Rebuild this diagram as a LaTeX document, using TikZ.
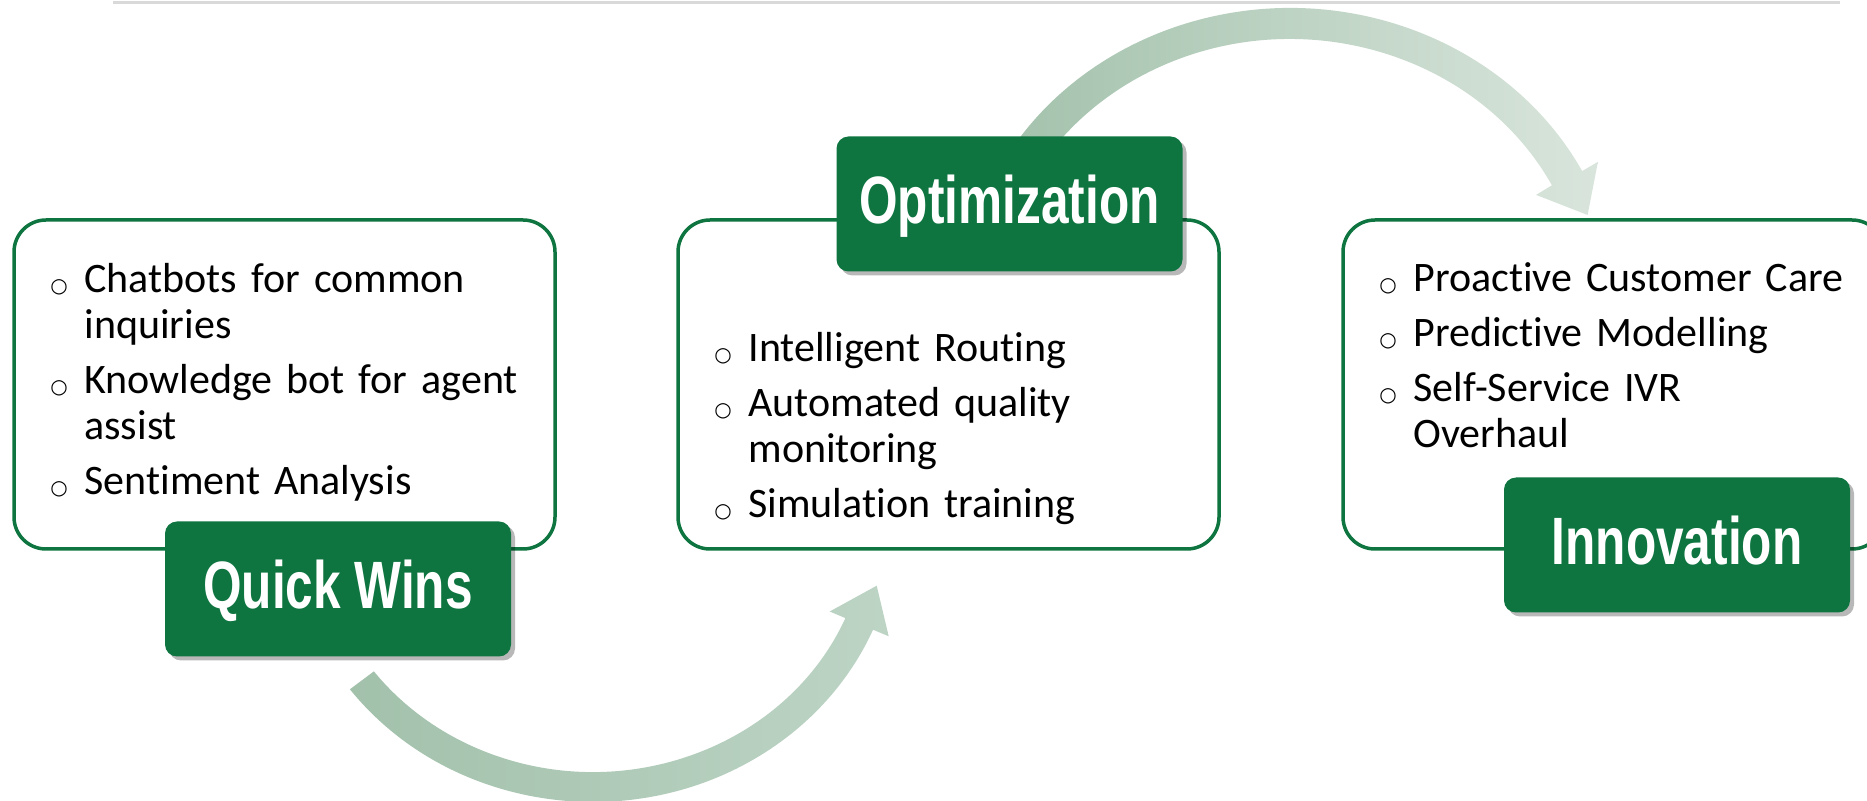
\documentclass[tikz,border=0pt]{standalone}
\usepackage{fontspec}
\setmainfont{Carlito}[Ligatures=NoCommon]
\newfontfamily\labelfont[FakeStretch=0.74]{Liberation Sans Bold}
\newfontfamily\dotfont{DejaVu Sans}
\usetikzlibrary{calc,shadows}

\definecolor{roadgreen}{RGB}{14,116,64}
\definecolor{flowdark}{RGB}{162,193,171}
\definecolor{flowlight}{RGB}{217,229,220}
\definecolor{flowmid}{RGB}{189,212,197}

% one bullet point, with the wrapped lines hanging under the text
\newcommand{\bitem}[1]{\par\noindent\hangindent=36pt\hangafter=1%
  \makebox[36pt][l]{\hspace{2pt}{\dotfont\fontsize{20}{20}\selectfont ○}}#1}

\begin{document}
\begin{tikzpicture}[
    x=1pt, y=1pt,
    phase/.style={rectangle, draw=roadgreen, line width=3.5pt, rounded corners=32pt, fill=white, minimum width=541pt, minimum height=329pt},
    tag/.style={rectangle, fill=roadgreen, rounded corners=12pt, minimum width=346pt, minimum height=135pt, text=white, text height=48pt, text depth=8pt, font=\labelfont\fontsize{67}{70}\selectfont, drop shadow={shadow xshift=4pt, shadow yshift=-4pt, opacity=0.28, fill=black}},
    items/.style={anchor=north west, inner sep=0pt, text width=500pt, align=left, font=\fontsize{42}{46}\selectfont}
]
\useasboundingbox (0,0) rectangle (1867,800);

% header strip at the top edge
\fill[white, drop shadow={shadow xshift=0pt, shadow yshift=-3pt, opacity=0.15, fill=black}] (113,799) rectangle (1840,880);

% Curved arrows between the phases
\shade[left color=flowdark, right color=flowmid]
  (349.9,110.7) arc[start angle=-143.1, end angle=-22.9, x radius=304, y radius=282]
  -- (888.7,163.7) -- (876.7,214.3) -- (829.7,188.5) -- (845.4,181.9)
  arc[start angle=-22.9, end angle=-143.1, x radius=274, y radius=252] -- cycle;
\shade[left color=flowdark, right color=flowlight]
  (987.2,608) arc[start angle=157, end angle=27.4, x radius=329, y radius=302]
  -- (1597.9,638.1) -- (1587.6,585) -- (1536.1,605.1) -- (1551.9,614.7)
  arc[start angle=27.4, end angle=157, x radius=295, y radius=271] -- cycle;

% Phase boxes
\node[phase] (qwbox) at (284.5,415.5) {};
\node[phase] (optbox) at (948.5,415.5) {};
\node[phase] (innbox) at (1613.5,415.5) {};

% Bullet lists
\node[items] (qwlist) at ($(qwbox.north west)+(36,-19)$) {\setlength{\parskip}{9pt}%
  \bitem{\rule{0pt}{40pt}Chatbots for common\newline inquiries}
  \bitem{Knowledge bot for agent\newline assist}
  \bitem{Sentiment Analysis}\par};
\node[items] (optlist) at ($(optbox.north west)+(36,-88)$) {\setlength{\parskip}{9pt}%
  \bitem{\rule{0pt}{40pt}Intelligent Routing}
  \bitem{Automated quality\newline monitoring}
  \bitem{Simulation training}\par};
\node[items] (innlist) at ($(innbox.north west)+(36,-18)$) {\setlength{\parskip}{9pt}%
  \bitem{\rule{0pt}{40pt}Proactive Customer Care}
  \bitem{Predictive Modelling}
  \bitem{Self-Service IVR\newline Overhaul}\par};

% Phase titles
\node[tag] (qw) at (338,211) {Quick Wins};
\node[tag] (opt) at (1009.5,596) {Optimization};
\node[tag] (inn) at (1677,255) {Innovation};

\end{tikzpicture}
\end{document}
